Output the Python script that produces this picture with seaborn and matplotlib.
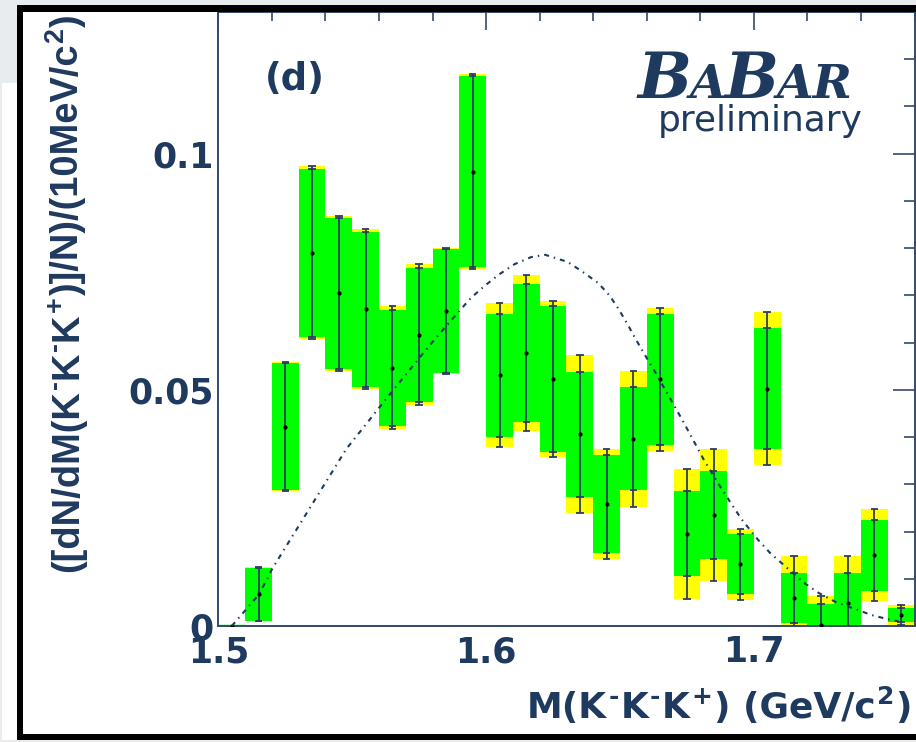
import matplotlib
matplotlib.use("Agg")
import numpy as np
import pandas as pd
import matplotlib.pyplot as plt
from matplotlib.patches import Rectangle
from matplotlib.transforms import IdentityTransform
from matplotlib.ticker import FixedLocator, MultipleLocator
import seaborn as sns

# ---------------------------------------------------------------- data
mass_center = [1.505, 1.515, 1.525, 1.535, 1.545, 1.555, 1.565, 1.575, 1.585,
               1.595, 1.605, 1.615, 1.625, 1.635, 1.645, 1.655, 1.665, 1.675,
               1.685, 1.695, 1.705, 1.715, 1.725, 1.735, 1.745, 1.755]
bin_width = 0.01
dn_dm = [0.0, 0.0067, 0.0422, 0.0790, 0.0704, 0.0671, 0.0547, 0.0617, 0.0667,
         0.0962, 0.0531, 0.0578, 0.0523, 0.0406, 0.0258, 0.0396, 0.0522, 0.0195,
         0.0235, 0.0131, 0.0502, 0.0059, 0.0002, 0.0048, 0.0150, 0.0024]
stat_err = [0.0, 0.0056, 0.0135, 0.0178, 0.0159, 0.0164, 0.0123, 0.0142, 0.0131,
            0.0202, 0.0130, 0.0146, 0.0155, 0.0132, 0.0103, 0.0109, 0.0139, 0.0090,
            0.0094, 0.0063, 0.0128, 0.0053, 0.0044, 0.0064, 0.0075, 0.0015]
total_err = [0.0, 0.0057, 0.0137, 0.0183, 0.0165, 0.0169, 0.0130, 0.0149, 0.0133,
             0.0207, 0.0152, 0.0165, 0.0166, 0.0167, 0.0117, 0.0143, 0.0151, 0.0137,
             0.0140, 0.0075, 0.0162, 0.0089, 0.0061, 0.0100, 0.0098, 0.0021]

# phase-space expectation
ps_mass = [1.5050, 1.5152, 1.5202, 1.5478, 1.5652, 1.5751, 1.5814, 1.5857, 1.5900,
           1.5944, 1.5994, 1.6050, 1.6106, 1.6168, 1.6220, 1.6304, 1.6360, 1.6419,
           1.6462, 1.6497, 1.6530, 1.6561, 1.6594, 1.6631, 1.6733, 1.6814, 1.6882,
           1.6954, 1.7015, 1.7060, 1.7118, 1.7186, 1.7242, 1.7305, 1.7373, 1.7441,
           1.7503, 1.7540]
ps_curve = [0.0000, 0.0067, 0.0122, 0.0375, 0.0499, 0.0568, 0.0611, 0.0639, 0.0667,
            0.0695, 0.0720, 0.0745, 0.0766, 0.0781, 0.0786, 0.0771, 0.0750, 0.0726,
            0.0699, 0.0669, 0.0637, 0.0605, 0.0573, 0.0538, 0.0436, 0.0351, 0.0288,
            0.0226, 0.0183, 0.0155, 0.0126, 0.0092, 0.0070, 0.0051, 0.0037, 0.0023,
            0.0014, 0.0010]

x_ticks = [1.5, 1.6, 1.7]
x_tick_labels = ["1.5", "1.6", "1.7"]
y_ticks = [0.0, 0.05, 0.1]
y_tick_labels = ["0", "0.05", "0.1"]

# ---------------------------------------------------------------- style
NAVY = "#1f3a5f"
SPINE = "#34496d"
ERR = "#2e3d63"
GREEN = "#00ff00"
YELLOW = "#ffff00"
GREY = "#e8ecef"

sns.set_theme(style="white")
plt.rcParams["font.family"] = ["DejaVu Sans"]

df = pd.DataFrame({"m": mass_center, "y": dn_dm, "stat": stat_err, "tot": total_err})
df["tot_lo"] = np.clip(df["y"] - df["tot"], 0, None)
df["tot_hi"] = df["y"] + df["tot"]
df["stat_lo"] = np.clip(df["y"] - df["stat"], 0, None)
df["stat_hi"] = df["y"] + df["stat"]

W, H = 916, 742
fig = plt.figure(figsize=(W / 100, H / 100), dpi=100, facecolor="white")


def fx(px):
    return px / W


def fy(py):
    return 1 - py / H


def band(x0, y0, x1, y1, color, z=10):
    fig.patches.append(Rectangle((fx(x0), fy(y1)), fx(x1) - fx(x0), fy(y0) - fy(y1),
                                 transform=fig.transFigure, facecolor=color,
                                 edgecolor="none", zorder=z))


# page background and frame
band(0, 0, W, 5, GREY)
band(0, 0, 17, 83, GREY)
band(0, 83, 2, H, GREY)
band(0, 740, W, H, GREY)
band(17, 5, 23, 740, "black")
band(17, 5, W, 12, "black")
band(17, 734, W, 740, "black")

ax = fig.add_axes([fx(218.4), fy(626), fx(914.5) - fx(218.4), fy(12) - fy(626)])
ax.set_facecolor("white")

# total (yellow) and statistical (green) uncertainty boxes
ax.bar(df["m"], df["tot_hi"] - df["tot_lo"], bottom=df["tot_lo"], width=bin_width,
       color=YELLOW, linewidth=0, zorder=1)
ax.bar(df["m"], df["stat_hi"] - df["stat_lo"], bottom=df["stat_lo"], width=bin_width,
       color=GREEN, linewidth=0, zorder=2)
empty = df[df["tot"] == 0]
ax.hlines(empty["y"], empty["m"] - bin_width / 2, empty["m"] + bin_width / 2,
          color=GREEN, linewidth=2.5, zorder=2)

# error bars with caps at both uncertainty levels
filled = df[df["tot"] > 0]
ax.vlines(filled["m"], filled["tot_lo"], filled["tot_hi"], color=ERR, linewidth=1.3, zorder=3)
cap = 0.0014
for col in ["tot_lo", "tot_hi", "stat_lo", "stat_hi"]:
    ax.hlines(filled[col], filled["m"] - cap, filled["m"] + cap, color=ERR,
              linewidth=1.3, zorder=3)

sns.scatterplot(data=df, x="m", y="y", ax=ax, color="black", s=9, linewidth=0,
                zorder=4, legend=False)

sns.lineplot(x=ps_mass, y=ps_curve, ax=ax, sort=False, estimator=None, color=NAVY,
             linewidth=1.5, linestyle=(0, (2.4, 2.4, 0.7, 2.4)), zorder=5)

ax.set_xlim(1.5, 1.76)
ax.set_ylim(0, 0.13)
ax.set_xlabel("")
ax.set_ylabel("")

ax.xaxis.set_major_locator(FixedLocator(x_ticks))
ax.set_xticklabels(x_tick_labels)
ax.yaxis.set_major_locator(FixedLocator(y_ticks))
ax.set_yticklabels(y_tick_labels)
ax.xaxis.set_minor_locator(MultipleLocator(0.02))
ax.yaxis.set_minor_locator(MultipleLocator(0.01))

for s in ax.spines.values():
    s.set_visible(True)
    s.set_color(SPINE)
    s.set_linewidth(1.4)

ax.tick_params(axis="both", which="both", direction="in", top=True, right=True,
               color=SPINE, width=1.2, labelcolor=NAVY)
ax.tick_params(axis="x", which="major", length=13, pad=6.5)
ax.tick_params(axis="x", which="minor", length=6.5)
ax.tick_params(axis="y", which="major", length=16, pad=3.5)
ax.tick_params(axis="y", which="minor", length=8)
for lab in ax.get_xticklabels() + ax.get_yticklabels():
    lab.set_fontfamily("DejaVu Sans")
    lab.set_fontweight("bold")
    lab.set_fontsize(25)

renderer = fig.canvas.get_renderer()


def place_runs(runs, x, y, family, weight="bold", style="normal",
               vertical=False, align="left", gap=0.0, length=None):
    """Lay out text runs of different sizes / raised baselines one after another.
    runs: (text, size_pt, rise_in_em). x, y in pixels from the top-left corner.
    If length is given, all sizes are rescaled so the line spans that many pixels."""

    def build(scale):
        arts, adv = [], []
        for s, size, rise in runs:
            t = fig.text(0, 0, s, fontsize=size * scale, fontfamily=family,
                         fontweight=weight, fontstyle=style,
                         color=NAVY, rotation=90 if vertical else 0,
                         rotation_mode="anchor", ha="left", va="baseline",
                         transform=IdentityTransform(), zorder=12)
            bb = t.get_window_extent(renderer)
            arts.append(t)
            adv.append((bb.height if vertical else bb.width) + gap)
        return arts, adv

    scale = 1.0
    arts, adv = build(scale)
    if length is not None:
        scale = length / (sum(adv) - gap)
        for t in arts:
            t.remove()
        arts, adv = build(scale)
    total = sum(adv) - gap
    shift = {"left": 0, "center": total / 2, "right": total}[align]
    if vertical:
        cur = (H - y) - shift
        for t, a, (s, size, rise) in zip(arts, adv, runs):
            t.set_position((x - rise * size * scale * 100 / 72, cur))
            cur += a
    else:
        cur = x - shift
        for t, a, (s, size, rise) in zip(arts, adv, runs):
            t.set_position((cur, (H - y) + rise * size * scale * 100 / 72))
            cur += a
    return arts


# axis titles
XL, SUP = 26, 18
place_runs([("M(K", XL, 0), ("-", SUP, 0.55), ("K", XL, 0), ("-", SUP, 0.55),
            ("K", XL, 0), ("+", SUP, 0.55), (") (GeV/c", XL, 0), ("2", SUP, 0.55),
            (")", XL, 0)], 912, 718, ["DejaVu Sans"], align="right", gap=1.5,
           length=385)

YL, YS = 34, 24
place_runs([("([dN/dM(K", YL, 0), ("-", YS, 0.55), ("K", YL, 0), ("-", YS, 0.55),
            ("K", YL, 0), ("+", YS, 0.55), (")]/N)/(10MeV/c", YL, 0), ("2", YS, 0.55),
            (")", YL, 0)], 78, 293, ["Liberation Sans", "DejaVu Sans"],
           vertical=True, align="center", gap=1.0, length=558)

# panel tag and experiment mark
place_runs([("(d)", 26.5, 0)], 265, 90, ["DejaVu Sans"])
place_runs([("B", 46, 0), ("A", 34, 0), ("B", 46, 0), ("AR", 34, 0)], 638, 98,
           ["DejaVu Serif"], style="italic", gap=-2)
place_runs([("preliminary", 25.8, 0)], 658, 131, ["DejaVu Sans"], weight="normal")

fig.savefig("out.png", dpi=100, facecolor="white")
